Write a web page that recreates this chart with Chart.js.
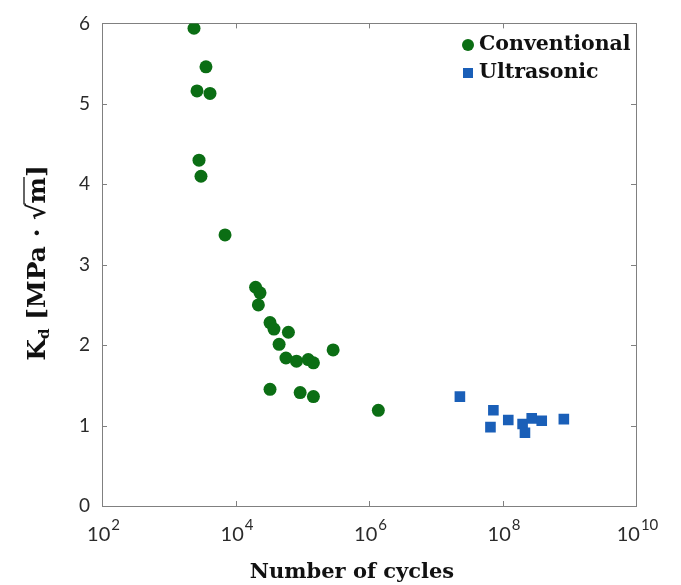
<!DOCTYPE html>
<html><head><meta charset="utf-8">
<script src="https://cdn.jsdelivr.net/npm/chart.js@4"></script>
<style>html,body{margin:0;padding:0;background:#fff}#wrap{width:681px;height:585px}</style>
</head><body><div id="wrap"><canvas id="c" width="681" height="585"></canvas></div>
<script>
const seriesNames = ['Conventional', 'Ultrasonic'];
const conventionalCycles = [2390, 3610, 2650, 4150, 2840, 3040, 6970, 20000, 23300, 22000, 32900, 37700, 62000, 45000, 290000, 57000, 82000, 123000, 147000, 32900, 93000, 147000, 1380000];
const conventionalKd     = [5.94, 5.46, 5.16, 5.13, 4.30, 4.10, 3.37, 2.72, 2.65, 2.50, 2.28, 2.20, 2.16, 2.01, 1.94, 1.84, 1.80, 1.82, 1.78, 1.45, 1.41, 1.36, 1.19];
const ultrasonicCycles = [2.3e7, 7.3e7, 6.6e7, 1.22e8, 2.0e8, 2.17e8, 2.74e8, 3.87e8, 8.3e8];
const ultrasonicKd     = [1.36, 1.19, 0.98, 1.07, 1.02, 0.91, 1.09, 1.06, 1.08];
const xTickValues = [1e2, 1e4, 1e6, 1e8, 1e10];
const xTickBases = ['10', '10', '10', '10', '10'];
const xTickExponents = ['2', '4', '6', '8', '10'];
const yTickValues = [0, 1, 2, 3, 4, 5, 6];
const xTitle = 'Number of cycles';

const GREEN = '#0b6e14';
const BLUE = '#1a5fb8';
const SERIF = '"DejaVu Serif", "Liberation Serif", serif';
const SANS = 'Lato, "Open Sans", sans-serif';

const framePlugin = {
  id: 'frame',
  beforeDatasetsDraw(chart) {
    const {ctx, chartArea: a, scales} = chart;
    ctx.save();
    ctx.strokeStyle = '#808080';
    ctx.lineWidth = 1;
    ctx.strokeRect(Math.round(a.left) + 0.5, Math.round(a.top) + 0.5, Math.round(a.right - a.left), Math.round(a.bottom - a.top));
    ctx.beginPath();
    yTickValues.forEach(v => {
      const y = Math.round(scales.y.getPixelForValue(v)) + 0.5;
      ctx.moveTo(a.left, y); ctx.lineTo(a.left + 5, y);
      ctx.moveTo(a.right, y); ctx.lineTo(a.right - 5, y);
    });
    xTickValues.forEach(v => {
      const x = Math.round(scales.x.getPixelForValue(v)) + 0.5;
      ctx.moveTo(x, a.bottom); ctx.lineTo(x, a.bottom - 5);
      ctx.moveTo(x, a.top); ctx.lineTo(x, a.top + 5);
    });
    ctx.stroke();
    ctx.restore();
  },
  afterDraw(chart) {
    const {ctx, chartArea: a, scales} = chart;
    ctx.save();
    // x tick labels with superscript exponents
    ctx.fillStyle = '#2a2a2a';
    ctx.textBaseline = 'alphabetic';
    xTickValues.forEach((v, i) => {
      const px = scales.x.getPixelForValue(v);
      ctx.font = '20px ' + SANS;
      const wb = ctx.measureText(xTickBases[i]).width;
      ctx.font = '15px ' + SANS;
      const we = ctx.measureText(xTickExponents[i]).width;
      const x0 = px - (wb + we) / 2 + 1;
      ctx.font = '20px ' + SANS;
      ctx.textAlign = 'left';
      ctx.fillText(xTickBases[i], x0, 541);
      ctx.font = '15px ' + SANS;
      ctx.fillText(xTickExponents[i], x0 + wb + 1, 530);
    });
    // x title
    ctx.font = 'bold 21px ' + SERIF;
    ctx.fillStyle = '#111';
    ctx.textAlign = 'center';
    ctx.fillText(xTitle, 352, 578);

    // legend
    const ds = chart.data.datasets;
    ctx.font = 'bold 20.5px ' + SERIF;
    ctx.textBaseline = 'middle';
    ctx.textAlign = 'left';
    const lx = 468;
    ctx.fillStyle = GREEN;
    ctx.beginPath(); ctx.arc(lx, 45, 6, 0, Math.PI * 2); ctx.fill();
    ctx.fillStyle = '#111';
    ctx.fillText(ds[0].label, lx + 11, 45);
    ctx.fillStyle = BLUE;
    ctx.fillRect(lx - 5, 68, 10, 10);
    ctx.fillStyle = '#111';
    ctx.fillText(ds[1].label, lx + 11, 73);

    // y title
    ctx.translate(45, 263);
    ctx.rotate(-Math.PI / 2);
    ctx.textBaseline = 'alphabetic';
    const big = 'bold 25px ' + SERIF;
    const small = 'bold 15px ' + SERIF;
    const parts = [
      {t: 'K', f: big, dy: 0},
      {t: 'd', f: small, dy: 4},
      {t: ' [MPa · ', f: big, dy: 0},
      {t: '√', f: big, dy: 0},
      {t: 'm', f: big, dy: 0, over: true},
      {t: ']', f: big, dy: 0}
    ];
    let total = 0;
    parts.forEach(p => { ctx.font = p.f; p.w = ctx.measureText(p.t).width; total += p.w; });
    let x = -total / 2;
    const base = 0;
    ctx.fillStyle = '#111';
    ctx.strokeStyle = '#111';
    parts.forEach(p => {
      ctx.font = p.f;
      ctx.fillText(p.t, x, base + p.dy);
      if (p.over) {
        ctx.lineWidth = 1.3;
        ctx.beginPath(); ctx.moveTo(x - 1, base - 21); ctx.lineTo(x + p.w, base - 21); ctx.stroke();
      }
      x += p.w;
    });
    ctx.restore();
  }
};

new Chart(document.getElementById('c'), {
  type: 'scatter',
  data: {
    datasets: [
      {
        label: seriesNames[0],
        data: conventionalCycles.map((c, i) => ({x: c, y: conventionalKd[i]})),
        backgroundColor: GREEN, borderColor: GREEN, pointStyle: 'circle', pointRadius: 6.5, borderWidth: 0
      },
      {
        label: seriesNames[1],
        data: ultrasonicCycles.map((c, i) => ({x: c, y: ultrasonicKd[i]})),
        backgroundColor: BLUE, borderColor: BLUE, pointStyle: 'rect', pointRadius: 7.5, borderWidth: 0
      }
    ]
  },
  options: {
    responsive: false,
    animation: false,
    layout: {padding: {top: 22, right: 45, left: 0, bottom: 0}},
    plugins: {legend: {display: false}, tooltip: {enabled: false}},
    scales: {
      x: {
        type: 'logarithmic', min: 1e2, max: 1e10,
        grid: {display: false}, border: {display: false},
        afterBuildTicks: s => { s.ticks = xTickValues.map(v => ({value: v})); },
        afterFit: s => { s.height = 79; },
        ticks: {display: false}
      },
      y: {
        min: 0, max: 6,
        grid: {display: false, drawTicks: false}, border: {display: false},
        afterBuildTicks: s => { s.ticks = yTickValues.map(v => ({value: v})); },
        afterFit: s => { s.width = 102; },
        ticks: {padding: 12, color: '#2a2a2a', font: {family: SANS, size: 19}}
      }
    }
  },
  plugins: [framePlugin]
});
</script>
</body></html>
